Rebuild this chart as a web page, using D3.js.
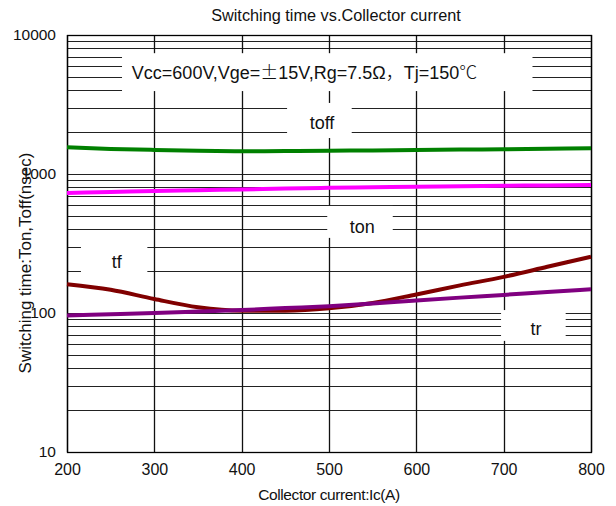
<!DOCTYPE html>
<html>
<head>
<meta charset="utf-8">
<script src="https://cdn.jsdelivr.net/npm/d3@7"></script>
<style>
  body { margin: 0; background: #fff; }
  svg { font-family: "Liberation Sans", Arial, sans-serif; }
</style>
</head>
<body>
<div id="chart"></div>
<script>
// values
var current = [200, 250, 300, 350, 400, 450, 500, 550, 600, 650, 700, 750, 800];
var toff = [1560, 1515, 1490, 1470, 1460, 1462, 1470, 1478, 1488, 1498, 1508, 1518, 1530];
var ton  = [730, 742, 755, 765, 775, 785, 795, 803, 810, 816, 822, 828, 833];
var tf   = [161, 147, 126, 110, 104, 104, 108, 118, 136, 158, 182, 215, 254];
var tr   = [96, 98, 100, 102.5, 105, 108.5, 112, 117, 123, 129, 135, 141.5, 148];

var xTicks = [200, 300, 400, 500, 600, 700, 800];
var yTicks = [10, 100, 1000, 10000];

var series = [
  {name: "toff", values: toff, color: "#008000"},
  {name: "ton", values: ton, color: "#ff00ff"},
  {name: "tf", values: tf, color: "#800000"},
  {name: "tr", values: tr, color: "#800080"}
];

// note boxes: [Ic0, Ic1] x [ns0, ns1], text centred at (Ic, ns)
// text pieces flagged cjk are set in the CJK font (full width glyphs)
var notes = [
  {parts: [["Vcc=600V,Vge=", 0], ["\u00b1", 1], ["15V,Rg=7.5\u03a9", 0], ["\uff0c", 1], ["Tj=150", 0], ["\u2103", 1]],
   box: [263, 733, 7400, 3950], at: [472, 5330]},
  {parts: [["toff", 0]], box: [452, 526, 3245, 1815], at: [492, 2365]},
  {parts: [["ton", 0]], box: [498, 573, 589, 347], at: [538, 416]},
  {parts: [["tf", 0]], box: [216, 292, 352, 179], at: [257, 233]},
  {parts: [["tr", 0]], box: [697, 771, 105, 63], at: [737, 77]}
];

var W = 616, H = 506;
var margin = {top: 35, right: 25, bottom: 54, left: 67};
var width = W - margin.left - margin.right;
var height = H - margin.top - margin.bottom;

var svg = d3.select("#chart").append("svg")
    .attr("width", W)
    .attr("height", H);

var g = svg.append("g")
    .attr("transform", "translate(" + margin.left + "," + margin.top + ")");

var x = d3.scaleLinear().domain([200, 800]).range([0, width]);
var y = d3.scaleLog().domain([10, 10000]).range([height, 0]);

// minor + major horizontal grid
var yGrid = [];
for (var d = 10; d < 10000; d *= 10) {
  for (var k = 1; k <= 9; k++) yGrid.push(d * k);
}
yGrid.push(10000);

g.selectAll(".hgrid")
    .data(yGrid)
    .enter().append("line")
    .attr("class", "hgrid")
    .attr("x1", 0).attr("x2", width)
    .attr("y1", function(d) { return Math.round(y(d)) + 0.5; })
    .attr("y2", function(d) { return Math.round(y(d)) + 0.5; })
    .style("stroke", "#222")
    .style("stroke-width", 1.2);

g.selectAll(".vgrid")
    .data(xTicks)
    .enter().append("line")
    .attr("class", "vgrid")
    .attr("x1", function(d) { return Math.round(x(d)) + 0.5; })
    .attr("x2", function(d) { return Math.round(x(d)) + 0.5; })
    .attr("y1", 0).attr("y2", height)
    .style("stroke", "#111")
    .style("stroke-width", 1.3);

// white boxes behind the notes
g.selectAll(".notebox")
    .data(notes)
    .enter().append("rect")
    .attr("class", "notebox")
    .attr("x", function(d) { return x(d.box[0]); })
    .attr("y", function(d) { return y(d.box[2]); })
    .attr("width", function(d) { return x(d.box[1]) - x(d.box[0]); })
    .attr("height", function(d) { return y(d.box[3]) - y(d.box[2]); })
    .style("fill", "#fff");

// frame
g.append("rect")
    .attr("x", 0.5).attr("y", 0.5)
    .attr("width", width).attr("height", height)
    .style("fill", "none")
    .style("stroke", "#000")
    .style("stroke-width", 1.3);

var line = d3.line()
    .x(function(d, i) { return x(current[i]); })
    .y(function(d) { return y(d); })
    .curve(d3.curveMonotoneX);

g.selectAll(".curve")
    .data(series)
    .enter().append("path")
    .attr("class", "curve")
    .attr("d", function(s) { return line(s.values); })
    .style("fill", "none")
    .style("stroke", function(s) { return s.color; })
    .style("stroke-width", 4);

var noteText = g.selectAll(".note")
    .data(notes)
    .enter().append("text")
    .attr("class", "note")
    .attr("x", function(d) { return x(d.at[0]); })
    .attr("y", function(d) { return y(d.at[1]); })
    .attr("dy", "0.36em")
    .attr("text-anchor", "middle")
    .style("font-size", "18px")
    .style("fill", "#111");

noteText.selectAll("tspan")
    .data(function(d) { return d.parts; })
    .enter().append("tspan")
    .style("font-family", function(p) {
      return p[1] ? "'Noto Sans CJK SC', sans-serif" : "'Liberation Sans', Arial, sans-serif";
    })
    .style("font-weight", function(p) { return p[1] ? 300 : null; })
    .text(function(p) { return p[0]; });

// axes
var xAxis = g.append("g")
    .attr("transform", "translate(0," + height + ")")
    .call(d3.axisBottom(x).tickValues(xTicks).tickSize(0).tickPadding(12));
xAxis.select(".domain").remove();
xAxis.selectAll(".tick text")
    .style("font-size", "16px")
    .style("font-family", "Liberation Sans, Arial, sans-serif")
    .style("fill", "#111");

var yAxis = g.append("g")
    .call(d3.axisLeft(y).tickValues(yTicks).tickFormat(d3.format("d")).tickSize(0).tickPadding(11));
yAxis.select(".domain").remove();
yAxis.selectAll(".tick text")
    .style("font-size", "15.5px")
    .style("font-family", "Liberation Sans, Arial, sans-serif")
    .style("fill", "#111");

svg.append("text")
    .attr("x", 336)
    .attr("y", 21)
    .attr("text-anchor", "middle")
    .style("font-size", "16.3px")
    .style("fill", "#111")
    .text("Switching time vs.Collector current");

svg.append("text")
    .attr("x", margin.left + width / 2)
    .attr("y", 500)
    .attr("text-anchor", "middle")
    .style("font-size", "15.5px")
    .style("letter-spacing", "-0.4px")
    .style("fill", "#111")
    .text("Collector current:Ic(A)");

svg.append("text")
    .attr("transform", "translate(31," + (margin.top + 228) + ") rotate(-90)")
    .attr("text-anchor", "middle")
    .style("font-size", "17px")
    .style("fill", "#111")
    .text("Switching time:Ton,Toff(nsec)");
</script>
</body>
</html>
